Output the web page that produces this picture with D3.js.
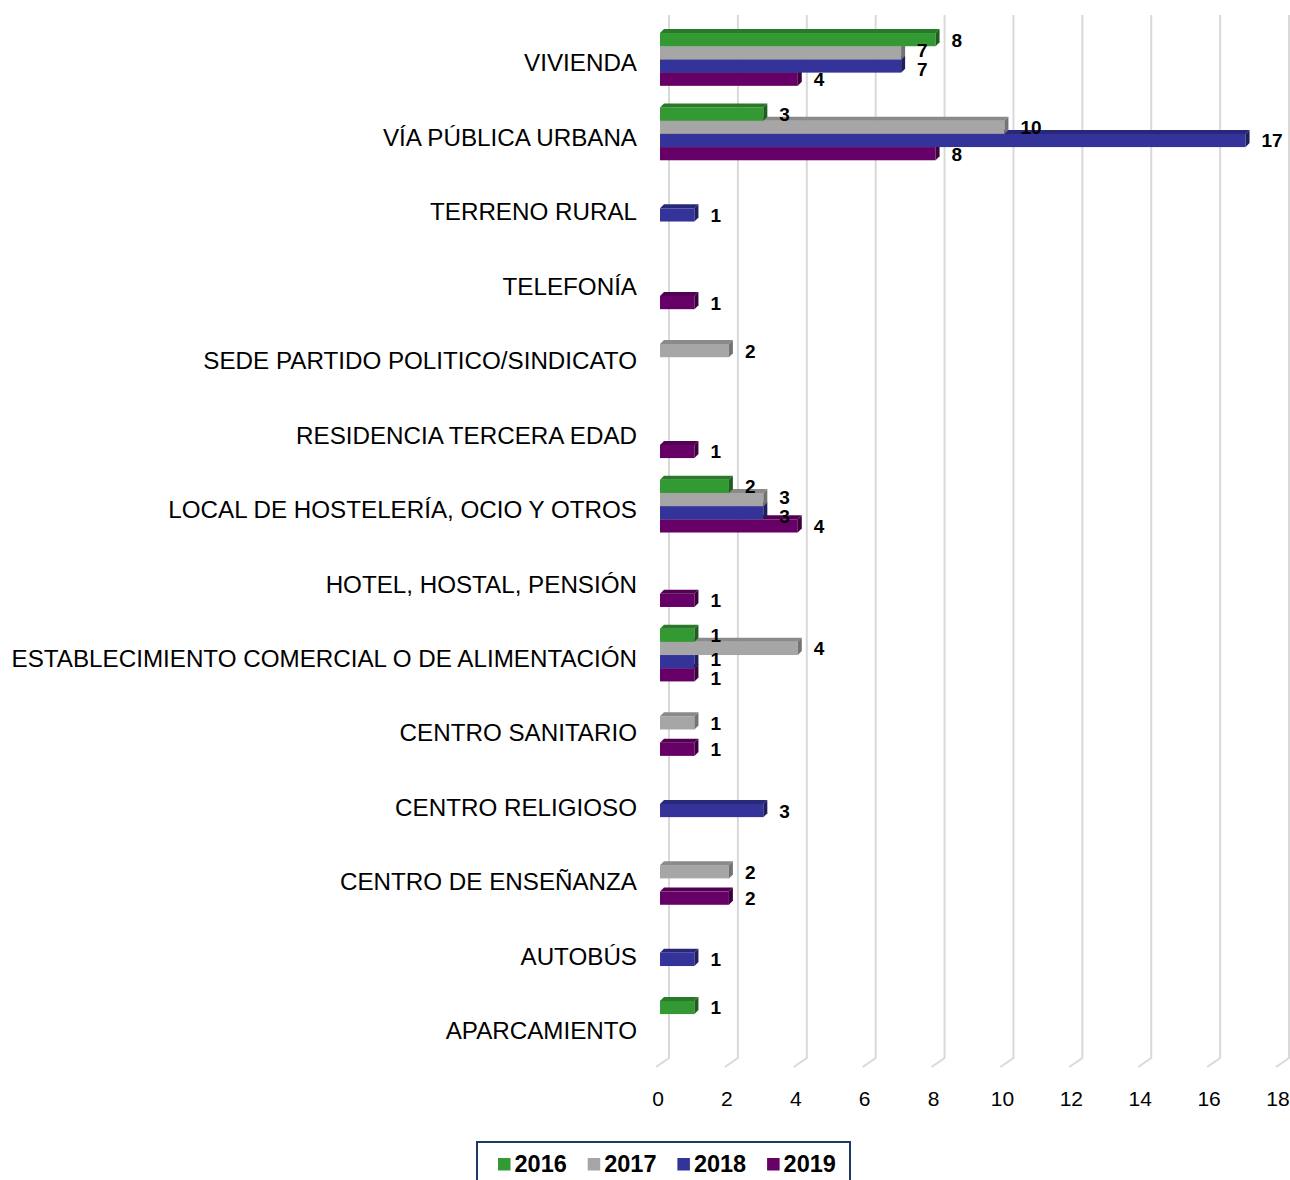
<!DOCTYPE html>
<html>
<head>
<meta charset="utf-8">
<script src="https://cdn.jsdelivr.net/npm/d3@7"></script>
<style>
  body { margin: 0; background: #fff; }
  text { font-family: "Liberation Sans", Arial, sans-serif; }
</style>
</head>
<body>
<div id="chart"></div>
<script>
// data (null = no bar)
var categories = ["VIVIENDA", "VÍA PÚBLICA URBANA", "TERRENO RURAL", "TELEFONÍA",
  "SEDE PARTIDO POLITICO/SINDICATO", "RESIDENCIA TERCERA EDAD",
  "LOCAL DE HOSTELERÍA, OCIO Y OTROS", "HOTEL, HOSTAL, PENSIÓN",
  "ESTABLECIMIENTO COMERCIAL O DE ALIMENTACIÓN", "CENTRO SANITARIO",
  "CENTRO RELIGIOSO", "CENTRO DE ENSEÑANZA", "AUTOBÚS", "APARCAMIENTO"];
var years = ["2016", "2017", "2018", "2019"];
var v2016 = [8, 3, null, null, null, null, 2, null, 1, null, null, null, null, 1];
var v2017 = [7, 10, null, null, 2, null, 3, null, 4, 1, null, 2, null, null];
var v2018 = [7, 17, 1, null, null, null, 3, null, 1, null, 3, null, 1, null];
var v2019 = [4, 8, null, 1, null, 1, 4, 1, 1, 1, null, 2, null, null];
var xTicks = [0, 2, 4, 6, 8, 10, 12, 14, 16, 18];

var series = [v2016, v2017, v2018, v2019];
var colors = ["#339933", "#a6a6a6", "#333399", "#660066"];
var topCols = ["#287a28", "#8a8a8a", "#28287a", "#520052"];
var sideCols = ["#1f5e1f", "#737373", "#1f1f5e", "#3d003d"];

var width = 1290, height = 1180;
var svg = d3.select("#chart").append("svg")
    .attr("width", width)
    .attr("height", height);

// scales (front floor plane)
var x = d3.scaleLinear().domain([0, 18]).range([656, 1276]);
var y = d3.scaleBand().domain(categories).range([22.2, 22.2 + 14 * 74.45]).paddingInner(0).paddingOuter(0);
var groupH = 52.8;
var y1 = d3.scaleBand().domain(years).range([0, groupH]);

// 3d offsets
var wallDx = 13, wallDy = -9, wallTop = 15, wallBottom = 1058;
var barShift = 4, bdx = 4, bdy = -4;

// back wall gridlines with a small floor piece
svg.append("g").selectAll("path")
    .data(xTicks)
  .enter().append("path")
    .attr("fill", "none")
    .attr("stroke", "#d9d9d9")
    .attr("stroke-width", 2)
    .attr("d", function(d) {
      return "M" + (x(d) + wallDx) + "," + wallTop +
        "L" + (x(d) + wallDx) + "," + wallBottom +
        "L" + x(d) + "," + (wallBottom - wallDy);
    });

// tick labels
svg.append("g").selectAll("text")
    .data(xTicks)
  .enter().append("text")
    .attr("x", function(d) { return x(d) + 2; })
    .attr("y", 1105.5)
    .attr("text-anchor", "middle")
    .style("font-size", "21px")
    .style("fill", "#000")
    .text(function(d) { return d; });

// category labels
svg.append("g").selectAll("text")
    .data(categories)
  .enter().append("text")
    .attr("x", 637)
    .attr("y", function(d) { return y(d) + (y.bandwidth() - groupH) / 2 + groupH / 2 + 12; })
    .attr("text-anchor", "end")
    .style("font-size", "24.2px")
    .style("fill", "#000")
    .text(function(d) { return d; });

// bars, lower slots first so upper bars cover them
var bars = [];
categories.forEach(function(c, ci) {
  for (var s = 3; s >= 0; s--) {
    var v = series[s][ci];
    if (v == null) continue;
    bars.push({cat: c, s: s, v: v});
  }
});

var top0 = (y.bandwidth() - groupH) / 2;
var bg = svg.append("g");
bars.forEach(function(b) {
  var x0 = x(0) + barShift, x1 = x(b.v) + barShift;
  var yt = y(b.cat) + top0 + y1(years[b.s]), h = y1.bandwidth();
  var g = bg.append("g");
  g.append("rect")
      .attr("x", x0).attr("y", yt)
      .attr("width", x1 - x0).attr("height", h)
      .attr("fill", colors[b.s]);
  g.append("path")
      .attr("fill", topCols[b.s])
      .attr("d", "M" + x0 + "," + yt + "L" + (x0 + bdx) + "," + (yt + bdy) +
        "L" + (x1 + bdx) + "," + (yt + bdy) + "L" + x1 + "," + yt + "Z");
  g.append("path")
      .attr("fill", sideCols[b.s])
      .attr("d", "M" + x1 + "," + yt + "L" + (x1 + bdx) + "," + (yt + bdy) +
        "L" + (x1 + bdx) + "," + (yt + h + bdy) + "L" + x1 + "," + (yt + h) + "Z");
});

// value label positions: centred on the bar, then spread where they collide
bars.forEach(function(b) {
  b.lx = x(b.v) + barShift + 16;
  b.ly = y(b.cat) + top0 + y1(years[b.s]) + y1.bandwidth() / 2;
  b.lw = String(b.v).length * 11;
});
var minGap = 19;
for (var iter = 0; iter < 20; iter++) {
  categories.forEach(function(c) {
    var ls = bars.filter(function(b) { return b.cat === c; })
        .sort(function(a, b) { return a.s - b.s; });
    for (var i = 0; i < ls.length; i++) {
      for (var j = i + 1; j < ls.length; j++) {
        var a = ls[i], b = ls[j];
        var hOver = a.lx < b.lx + b.lw && b.lx < a.lx + a.lw;
        var gap = b.ly - a.ly;
        if (hOver && gap < minGap) {
          var push = (minGap - gap) / 2;
          a.ly -= push;
          b.ly += push;
        }
      }
    }
  });
}

svg.append("g").selectAll("text")
    .data(bars)
  .enter().append("text")
    .attr("x", function(d) { return d.lx; })
    .attr("y", function(d) { return d.ly + 7; })
    .style("font-size", "19px")
    .style("font-weight", "bold")
    .style("fill", "#000")
    .text(function(d) { return d.v; });

// legend
var lg = svg.append("g");
lg.append("rect")
    .attr("x", 477).attr("y", 1142)
    .attr("width", 373).attr("height", 60)
    .attr("fill", "#fff")
    .attr("stroke", "#1f3864")
    .attr("stroke-width", 2);
var items = lg.selectAll("g.item")
    .data(years)
  .enter().append("g")
    .attr("class", "item")
    .attr("transform", function(d, i) { return "translate(" + (498 + i * 89.7) + ",0)"; });
items.append("rect")
    .attr("x", 0).attr("y", 1158)
    .attr("width", 12.5).attr("height", 12.5)
    .attr("fill", function(d, i) { return colors[i]; });
items.append("text")
    .attr("x", 16.5).attr("y", 1172)
    .style("font-size", "23.5px")
    .style("font-weight", "bold")
    .style("fill", "#000")
    .text(function(d) { return d; });
</script>
</body>
</html>
